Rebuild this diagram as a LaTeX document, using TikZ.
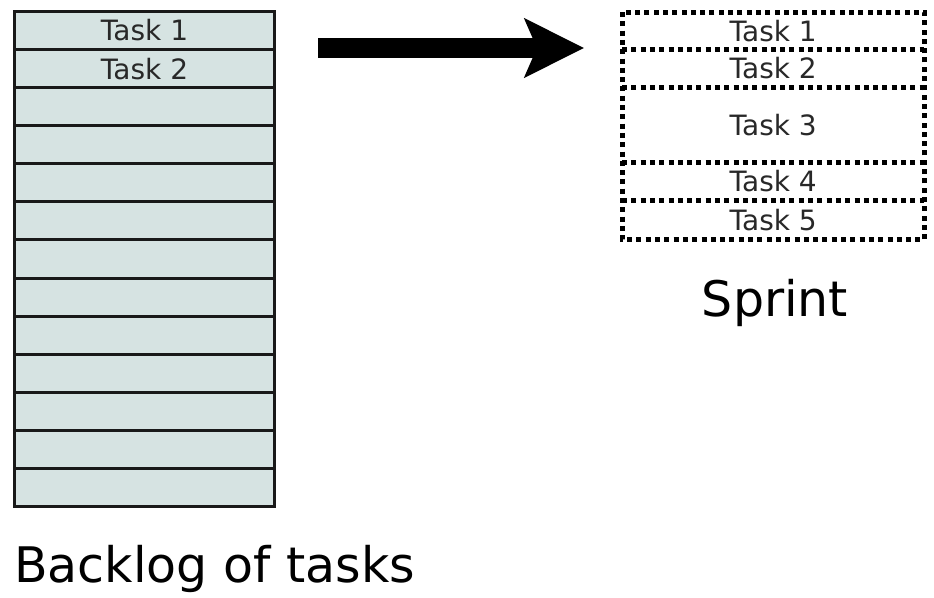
\documentclass[tikz,border=0pt]{standalone}
\usepackage{fontspec}
\setmainfont{DejaVu Sans}
\usetikzlibrary{arrows.meta}
\definecolor{backfill}{RGB}{214,227,226}
\definecolor{tasktext}{RGB}{40,40,40}
\begin{document}
\begin{tikzpicture}[x=1pt,y=-1pt,
  row/.style={draw=black!90, line width=3pt, fill=backfill, minimum width=260pt,
    minimum height=38.08pt, inner sep=0pt, anchor=north west,
    font=\fontsize{28}{28}\selectfont, text=tasktext},
  slot/.style={minimum width=302pt, inner sep=0pt, anchor=north west,
    font=\fontsize{28}{28}\selectfont, text=tasktext},
  dotline/.style={line width=5pt, dash pattern=on 5pt off 4.3pt},
  big/.style={font=\fontsize{49}{49}\selectfont, inner sep=0pt}]
\useasboundingbox (0,0) rectangle (934,597);
% backlog
\node[row] (b1) at (13,10) {Task 1};
\node[row] (b2) at (13,48.08) {Task 2};
\foreach \i in {3,...,13} {\node[row] (b\i) at (13,{10+(\i-1)*38.08}) {};}
% sprint
\node[slot, minimum height=37pt] (s1) at (622,12) {Task 1};
\node[slot, minimum height=38pt] (s2) at (622,49) {Task 2};
\node[slot, minimum height=75pt] (s3) at (622,87) {Task 3};
\node[slot, minimum height=38pt] (s4) at (622,162) {Task 4};
\node[slot, minimum height=39pt] (s5) at (622,200) {Task 5};
\draw[dotline] (s1.north west) rectangle (s5.south east);
\foreach \n in {1,2,3,4} {\draw[dotline] (s\n.south west) -- (s\n.south east);}
% arrow
\coordinate (arrS) at (318,48);
\coordinate (arrE) at (584,48);
\draw[line width=20pt, -{Stealth[length=59pt,width=58pt,inset=12pt]}] (arrS) -- (arrE);
% labels
\node[big, anchor=base west] (backlog) at (14,582) {Backlog of tasks};
\node[big, anchor=base] (sprint) at (775,316) {Sprint};
\end{tikzpicture}
\end{document}
